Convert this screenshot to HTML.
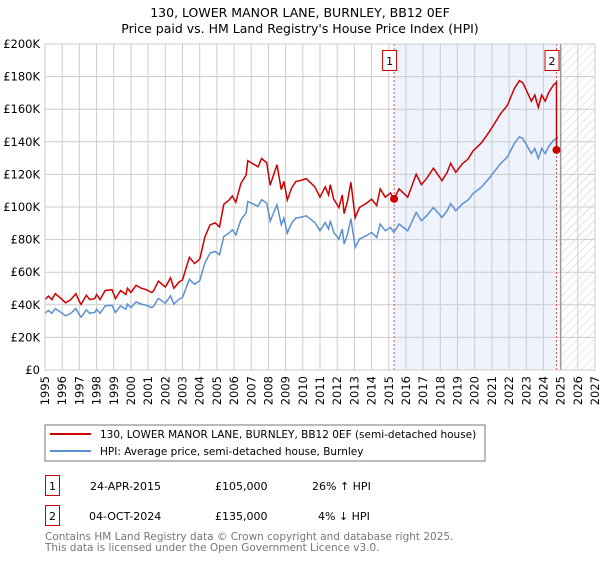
<!DOCTYPE html>
<html><head><meta charset="utf-8"><style>
body{margin:0;background:#fff;}
svg text{font-family:"DejaVu Sans","Liberation Sans",sans-serif;}
</style></head><body>
<svg id="c" width="600" height="560" xmlns="http://www.w3.org/2000/svg">
<defs><pattern id="hatch" width="6" height="6" patternUnits="userSpaceOnUse" patternTransform="rotate(45)"><line x1="0" y1="0" x2="0" y2="6" stroke="#ccc" stroke-width="1"/></pattern></defs>
<text x="300" y="17" text-anchor="middle" font-size="12.5">130, LOWER MANOR LANE, BURNLEY, BB12 0EF</text>
<text x="300" y="33" text-anchor="middle" font-size="12.5">Price paid vs. HM Land Registry's House Price Index (HPI)</text>
<g id="plot"></g>
<rect x="45" y="425" width="440" height="36" fill="#fff" stroke="#777"/>
<line x1="50" y1="434" x2="91" y2="434" stroke="#cc0000" stroke-width="2"/>
<text x="100" y="438" font-size="10.5">130, LOWER MANOR LANE, BURNLEY, BB12 0EF (semi-detached house)</text>
<line x1="50" y1="451" x2="91" y2="451" stroke="#5b8fd4" stroke-width="2"/>
<text x="100" y="455" font-size="10.5">HPI: Average price, semi-detached house, Burnley</text>
<g>
<rect x="45.5" y="475.5" width="14" height="20" fill="#fff" stroke="#cc0000"/>
<text x="52.5" y="490" text-anchor="middle" font-size="11">1</text>
<text x="90" y="490" font-size="11">24-APR-2015</text>
<text x="215" y="490" font-size="11">£105,000</text>
<text x="312" y="490" font-size="11">26% ↑ HPI</text></g>
<g>
<rect x="45.5" y="505.5" width="14" height="20" fill="#fff" stroke="#cc0000"/>
<text x="52.5" y="520" text-anchor="middle" font-size="11">2</text>
<text x="89" y="520" font-size="11">04-OCT-2024</text>
<text x="215" y="520" font-size="11">£135,000</text>
<text x="318" y="520" font-size="11">4% ↓ HPI</text></g>
<text x="45" y="540" font-size="10.5" fill="#777">Contains HM Land Registry data © Crown copyright and database right 2025.</text>
<text x="45" y="551" font-size="10.5" fill="#777">This data is licensed under the Open Government Licence v3.0.</text>
</svg>
<script>
const hpiT=[1995.0,1995.2,1995.4,1995.6,1996.0,1996.2,1996.5,1996.8,1997.0,1997.1,1997.4,1997.6,1997.9,1998.0,1998.2,1998.5,1998.9,1999.1,1999.4,1999.7,1999.8,2000.0,2000.3,2000.6,2000.9,2001.2,2001.3,2001.6,2002.0,2002.1,2002.3,2002.5,2002.8,2003.0,2003.4,2003.7,2004.0,2004.3,2004.6,2004.9,2005.15,2005.4,2005.7,2005.9,2006.1,2006.4,2006.7,2006.8,2007.2,2007.4,2007.6,2007.9,2008.1,2008.3,2008.5,2008.75,2008.9,2009.1,2009.35,2009.6,2009.85,2010.2,2010.7,2011.0,2011.3,2011.5,2011.6,2011.8,2012.1,2012.3,2012.4,2012.6,2012.8,2013.05,2013.3,2013.7,2014.0,2014.3,2014.5,2014.8,2015.1,2015.3,2015.6,2016.1,2016.6,2016.9,2017.2,2017.6,2018.1,2018.4,2018.6,2018.9,2019.3,2019.6,2019.9,2020.4,2020.9,2021.5,2021.9,2022.3,2022.6,2022.8,2023.3,2023.5,2023.7,2023.9,2024.1,2024.3,2024.6,2024.75,2024.85];
const hpiV=[34.8,36.5,34.8,37.7,34.8,33.2,34.8,37.7,33.8,32.4,36.9,34.8,35.3,37.3,34.8,39.3,39.7,35.3,39.3,37.3,40.4,38.3,41.8,40.4,39.7,38.3,38.9,43.9,41.0,42.4,45.5,40.4,43.5,44.5,55.7,52.6,54.7,65.6,71.7,72.7,70.7,81.9,83.9,86.0,82.9,92.2,96.3,103.4,101.4,100.4,104.5,102.4,91.3,96.4,101.4,89.1,93.2,84.0,90.0,93.2,93.6,94.6,90.5,85.4,90.5,86.5,91.6,84.4,80.3,86.5,77.3,83.4,92.8,75.3,80.3,82.4,84.4,81.3,89.5,85.4,87.5,84.4,89.5,85.4,96.7,91.6,94.6,99.7,93.6,97.7,102.1,97.7,102.1,104.1,108.2,112.3,118.4,126.6,130.7,138.9,143.0,142.0,132.8,135.9,129.8,135.9,132.8,137.0,141.0,142.0,143.0];
const sales=[{t:2015.31,p:105},{t:2024.76,p:135}];
const yTicks=[0,20,40,60,80,100,120,140,160,180,200];
const xTicks=[1995,1996,1997,1998,1999,2000,2001,2002,2003,2004,2005,2006,2007,2008,2009,2010,2011,2012,2013,2014,2015,2016,2017,2018,2019,2020,2021,2022,2023,2024,2025,2026,2027];
const X0=45,X1=595,Y0=370,Y1=44;
const xs=t=>X0+(t-1995)/(2027-1995)*(X1-X0);
const ys=v=>Y0-v/200*(Y0-Y1);
const NS='http://www.w3.org/2000/svg';
const g=document.getElementById('plot');
function mk(tag,a,parent){const e=document.createElementNS(NS,tag);for(const k in a)e.setAttribute(k,a[k]);(parent||g).appendChild(e);return e;}
function hpiAt(t){for(let i=1;i<hpiT.length;i++){if(hpiT[i]>=t){const f=(t-hpiT[i-1])/(hpiT[i]-hpiT[i-1]);return hpiV[i-1]+f*(hpiV[i]-hpiV[i-1]);}}return hpiV[hpiV.length-1];}
let e=mk('rect',{x:xs(sales[0].t),y:Y1,width:xs(sales[1].t)-xs(sales[0].t),height:Y0-Y1,fill:'#eef3fd'});


e=mk('rect',{x:xs(2025),y:Y1,width:X1-xs(2025),height:Y0-Y1,fill:'url(#hatch)'});


yTicks.forEach(v=>{let l=mk('line',{x1:X0,x2:X1,y1:ys(v),y2:ys(v),stroke:'#ccc'});


let t=mk('text',{x:40,y:ys(v)+4,'text-anchor':'end','font-size':'11.5'});t.textContent=v===0?'£0':'£'+v+'K';

});
xTicks.forEach(y=>{let l=mk('line',{x1:xs(y),x2:xs(y),y1:Y1,y2:Y0,stroke:'#ccc'});


let t=mk('text',{x:xs(y)+4,y:Y0+6,'text-anchor':'end','font-size':'11.5',transform:`rotate(-90 ${xs(y)+4} ${Y0+6})`});t.textContent=y;

});
e=mk('line',{x1:xs(2025),x2:xs(2025),y1:Y1,y2:Y0,stroke:'#999','stroke-width':1.5});


sales.forEach((s,i)=>{let l=mk('line',{x1:xs(s.t),x2:xs(s.t),y1:Y1,y2:Y0,stroke:'#e05050','stroke-dasharray':'2,2'});


let r=mk('rect',{x:xs(s.t)-11.5,y:50.5,width:14,height:20,fill:'#fff',stroke:'#cc0000'});


let t=mk('text',{x:xs(s.t)-4.5,y:65,'text-anchor':'middle','font-size':'11'});t.textContent=String(i+1);

});
const hp=hpiT.map((t,i)=>`${xs(t).toFixed(1)},${ys(hpiV[i]).toFixed(1)}`).join(' ');
e=mk('polyline',{points:hp,fill:'none',stroke:'#5b8fd4','stroke-width':1.5});


const r1=sales[0].p/hpiAt(sales[0].t),r2=sales[1].p/hpiAt(sales[1].t);
let pts=[];
hpiT.forEach((t,i)=>{if(t<sales[1].t)pts.push([t,hpiV[i]*r1]);});
pts.push([sales[1].t,hpiAt(sales[1].t)*r1]);pts.push([sales[1].t,sales[1].p]);
hpiT.forEach((t,i)=>{if(t>sales[1].t)pts.push([t,hpiV[i]*r2]);});
e=mk('polyline',{points:pts.map(p=>`${xs(p[0]).toFixed(1)},${ys(p[1]).toFixed(1)}`).join(' '),fill:'none',stroke:'#cc0000','stroke-width':1.5});


sales.forEach(s=>{let c=mk('circle',{cx:xs(s.t),cy:ys(s.p),r:4,fill:'#cc0000'});

});
e=mk('rect',{x:X0,y:Y1,width:X1-X0,height:Y0-Y1,fill:'none',stroke:'#ccc'});


</script>
</body></html>
